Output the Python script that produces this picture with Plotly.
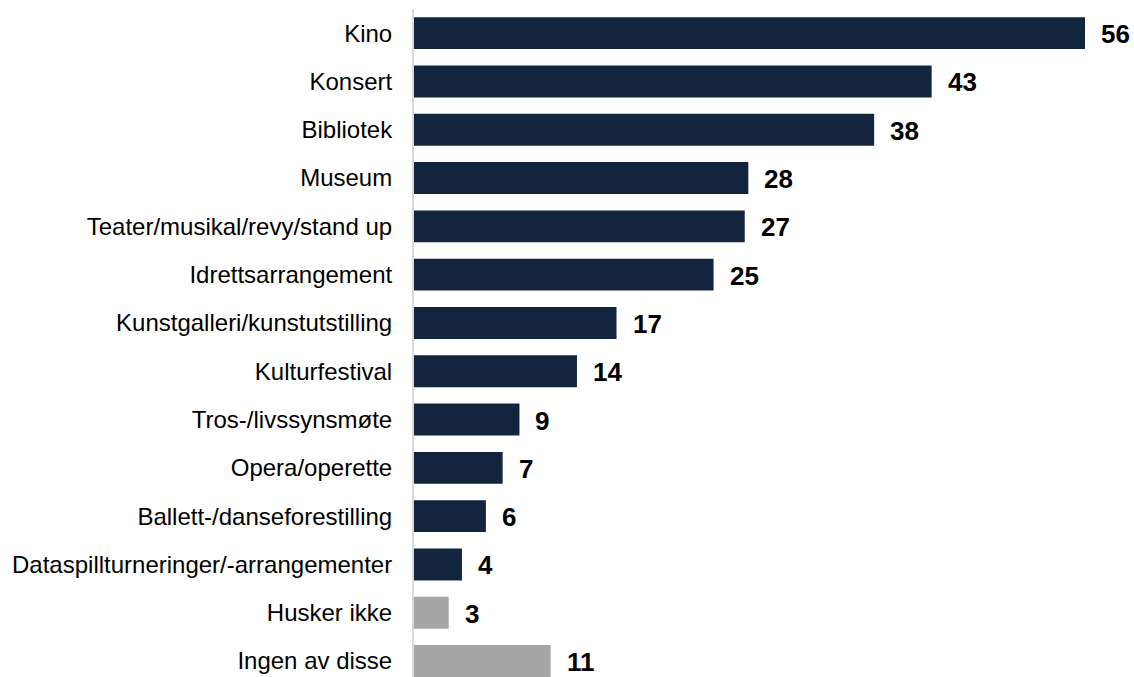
import plotly.graph_objects as go

categories = [
    "Kino", "Konsert", "Bibliotek", "Museum", "Teater/musikal/revy/stand up",
    "Idrettsarrangement", "Kunstgalleri/kunstutstilling", "Kulturfestival",
    "Tros-/livssynsmøte", "Opera/operette", "Ballett-/danseforestilling",
    "Dataspillturneringer/-arrangementer", "Husker ikke", "Ingen av disse",
]
# unrounded shares (bar lengths) and the rounded labels shown in the chart
values = [56.0, 43.2, 38.4, 27.9, 27.6, 25.0, 16.9, 13.6, 8.8, 7.4, 6.0, 4.0, 2.9, 11.4]
labels = ["56", "43", "38", "28", "27", "25", "17", "14", "9", "7", "6", "4", "3", "11"]
NAVY = "#13243F"
GRAY = "#A6A6A6"
colors = [NAVY] * 12 + [GRAY] * 2

fig = go.Figure()
fig.add_trace(go.Bar(
    x=values, y=categories, orientation="h",
    marker=dict(color=colors, line=dict(width=0)),
    width=0.66, hoverinfo="skip",
))
for c, v, t in zip(categories, values, labels):
    fig.add_annotation(
        x=v, y=c, text=f"<b>{t}</b>", showarrow=False,
        xanchor="left", xshift=14, yshift=-1,
        font=dict(family="Liberation Sans, Arial", size=26, color="#000000"),
    )

fig.update_layout(
    width=1134, height=677,
    margin=dict(l=414, r=25, t=9, b=0),
    plot_bgcolor="white", paper_bgcolor="white",
    showlegend=False,
    font=dict(family="Liberation Sans, Arial", size=24, color="#000000"),
    xaxis=dict(range=[0, 58], visible=False, fixedrange=True),
    yaxis=dict(
        categoryorder="array", categoryarray=categories,
        range=[13.33, -0.5], fixedrange=True,
        showline=True, linecolor="#D9D9D9", linewidth=2,
        ticks="", showgrid=False, zeroline=False,
        ticklabelstandoff=15,
        tickfont=dict(family="Liberation Sans, Arial", size=24, color="#000000"),
    ),
)

fig.write_html(
    "out.html",
    config={"displayModeBar": False},
    post_script="document.body.style.margin='0';document.body.style.padding='0';",
)
